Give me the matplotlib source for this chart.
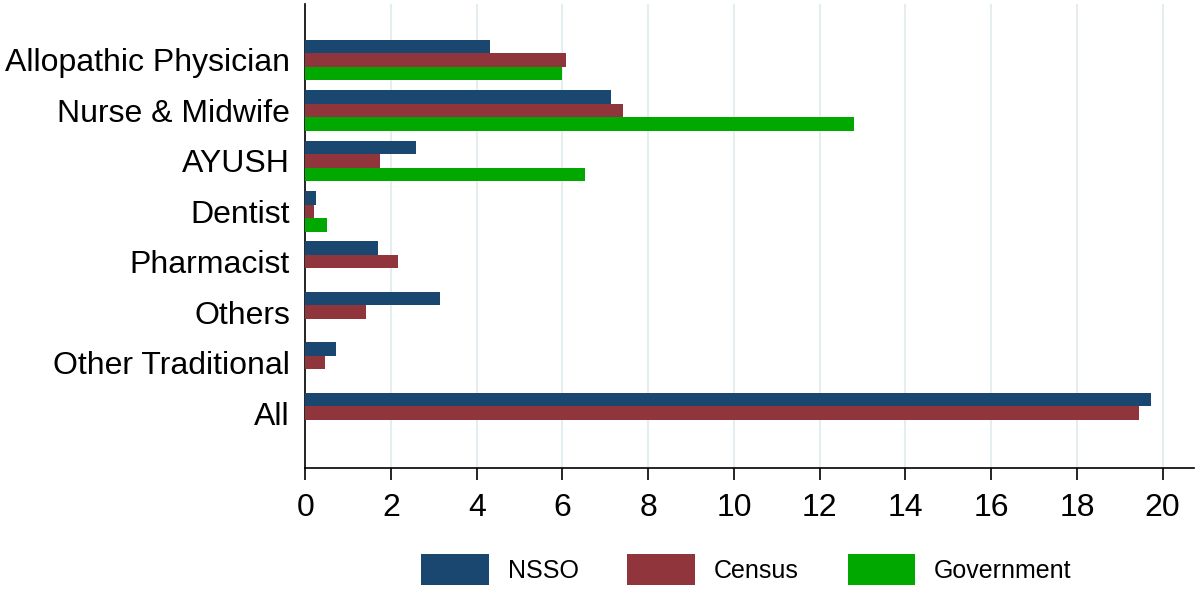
import numpy as np
import matplotlib.pyplot as plt

plt.rcParams["font.family"] = ["Liberation Sans", "DejaVu Sans"]

categories = ["Allopathic Physician", "Nurse & Midwife", "AYUSH", "Dentist",
              "Pharmacist", "Others", "Other Traditional", "All"]
nsso = [4.31, 7.13, 2.59, 0.25, 1.69, 3.15, 0.72, 19.73]
census = [6.09, 7.42, 1.75, 0.21, 2.16, 1.41, 0.47, 19.45]
government = [5.98, 12.80, 6.52, 0.50, np.nan, np.nan, np.nan, np.nan]

series = [("NSSO", nsso, "#1a476f"),
          ("Census", census, "#90353b"),
          ("Government", government, "#00a800")]

fig = plt.figure(figsize=(12, 5.9), dpi=100)
ax = fig.add_axes([0.2544, 0.2068, 0.7409, 0.7864])

pos = np.arange(len(categories))
h = 0.268
for k, (name, vals, col) in enumerate(series):
    vals = np.array(vals, dtype=float)
    ok = ~np.isnan(vals)
    ax.barh(pos[ok] + (k - 1) * h, vals[ok], height=h, color=col,
            label=name, zorder=3)

ax.set_ylim(8.09, -1.11)
ax.set_xlim(0, 20.74)
ax.set_yticks(pos)
ax.set_yticklabels(categories)
ax.set_xticks(np.arange(0, 21, 2))
ax.tick_params(axis="y", length=0, pad=11, labelsize=23)
ax.tick_params(axis="x", length=8.6, width=1.2, pad=9.5, labelsize=23)

ax.grid(axis="x", color="#e6edf1", linewidth=1.5, zorder=0)
for s in ["top", "right"]:
    ax.spines[s].set_visible(False)
for s in ["left", "bottom"]:
    ax.spines[s].set_linewidth(1.2)

fig.legend(loc="center", bbox_to_anchor=(0.622, 0.034), ncol=3, frameon=False,
           fontsize=18, handlelength=2.7, handleheight=1.53,
           handletextpad=0.76, columnspacing=1.95)

fig.savefig("out.png", dpi=100)
